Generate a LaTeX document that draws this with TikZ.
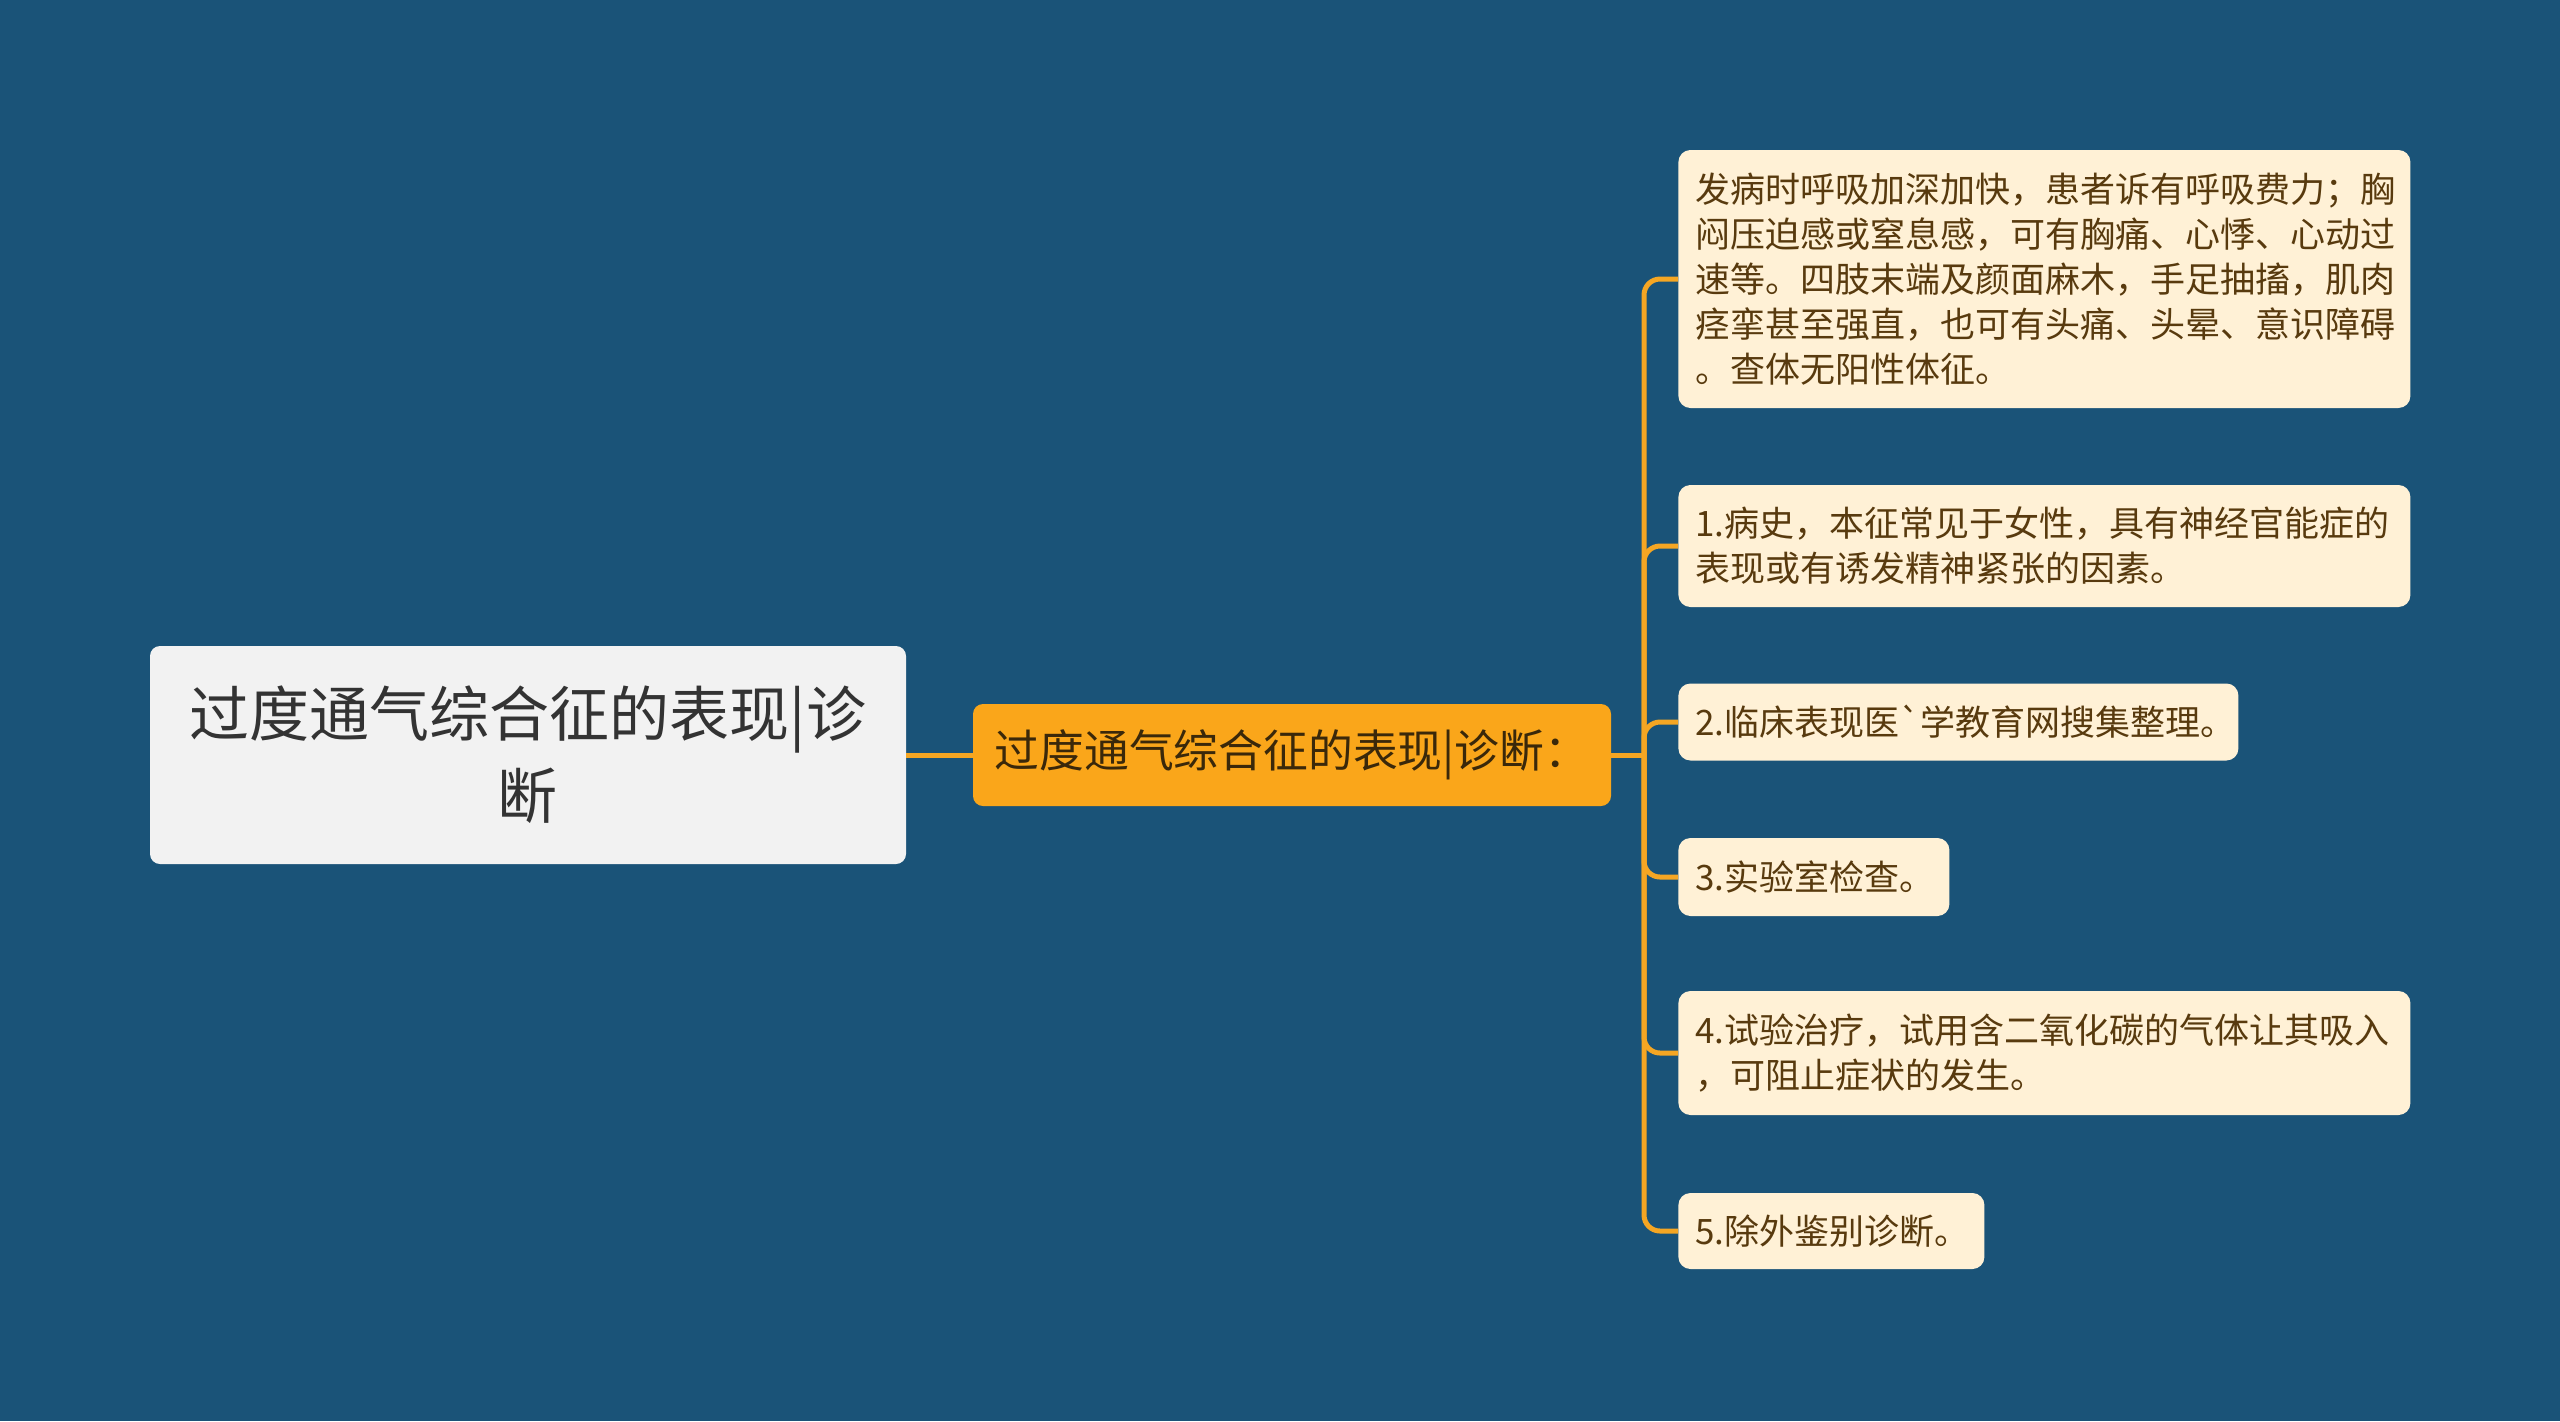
\documentclass[tikz,border=0pt]{standalone}
\usepackage{fontspec}
\setmainfont{Noto Sans CJK SC}
\definecolor{bgblue}{RGB}{26,83,120}
\definecolor{rootgray}{RGB}{242,242,242}
\definecolor{roottext}{RGB}{51,51,51}
\definecolor{suborange}{RGB}{250,166,26}
\definecolor{subtext}{RGB}{58,40,10}
\definecolor{leafcream}{RGB}{255,241,214}
\definecolor{leaftext}{RGB}{88,58,14}
\definecolor{linkorange}{RGB}{245,166,35}
\tikzset{
	rootbox/.style={fill=rootgray, rounded corners=5pt, minimum width=378pt, minimum height=109pt, align=center, text=roottext, font=\fontsize{30}{41}\selectfont},
	subbox/.style={fill=suborange, rounded corners=5pt, minimum width=319pt, minimum height=51pt, text=subtext, font=\fontsize{22.4}{27}\selectfont},
	leafbox/.style={fill=leafcream, rounded corners=6pt, anchor=west, align=left, inner xsep=8.5pt, text=leaftext, font=\fontsize{17.5}{22.5}\selectfont},
	link/.style={draw=linkorange, line width=2.5pt}}

\begin{document}
\begin{tikzpicture}[x=0.5pt,y=0.5pt,yscale=-1,xscale=1]
	% background
	\fill[bgblue] (0,0) rectangle (2560,1421);
	\useasboundingbox (0,0) rectangle (2560,1421);

	% Root
	\node[rootbox] (root) at (528,755) {过度通气综合征的表现|诊\\断};
	% Sub topic
	\node[subbox] (sub) at (1292,755) {过度通气综合征的表现|诊断：};
	\coordinate (spine) at (1644,755);

	% Leaves
	\node[leafbox, text width=349pt, minimum height=129pt] (c1) at (1678,279) {发病时呼吸加深加快，患者诉有呼吸费力；胸\\闷压迫感或窒息感，可有胸痛、心悸、心动过\\速等。四肢末端及颜面麻木，手足抽搐，肌肉\\痉挛甚至强直，也可有头痛、头晕、意识障碍\\。查体无阳性体征。};
	\node[leafbox, text width=349pt, minimum height=61pt] (c2) at (1678,546) {1.病史，本征常见于女性，具有神经官能症的\\表现或有诱发精神紧张的因素。};
	\node[leafbox, text width=263pt, minimum height=38.5pt] (c3) at (1678,722) {2.临床表现医\textasciigrave 学教育网搜集整理。};
	\node[leafbox, text width=118.5pt, minimum height=39pt] (c4) at (1678,877) {3.实验室检查。};
	\node[leafbox, text width=349pt, minimum height=62pt] (c5) at (1678,1053) {4.试验治疗，试用含二氧化碳的气体让其吸入\\，可阻止症状的发生。};
	\node[leafbox, text width=136pt, minimum height=38pt] (c6) at (1678,1231) {5.除外鉴别诊断。};

	% Links
	\draw[link] (root.east) -- (sub.west);
	\draw[link] (sub.east) -- (spine);
	\foreach \leaf in {c1,c2,c3,c4,c5,c6}
		\draw[link, rounded corners=8pt] (spine) |- (\leaf.west);

\end{tikzpicture}
\end{document}
